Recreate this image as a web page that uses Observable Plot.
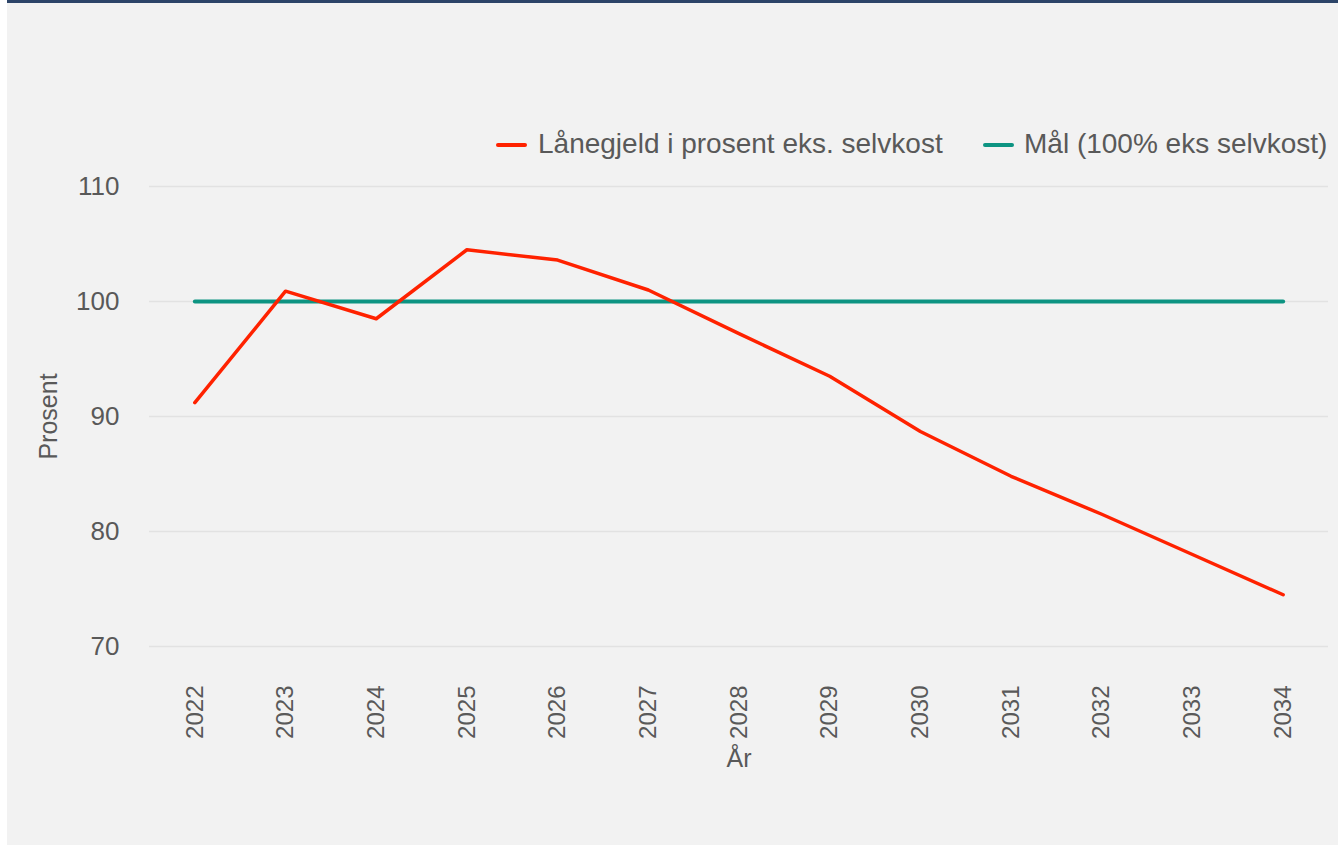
<!DOCTYPE html>
<html>
<head>
<meta charset="utf-8">
<script src="https://cdn.jsdelivr.net/npm/d3@7"></script>
<script src="https://cdn.jsdelivr.net/npm/@observablehq/plot@0.6"></script>
<style>
  html, body { margin: 0; padding: 0; background: #ffffff; }
  #panel {
    position: absolute; left: 7px; top: 0px; width: 1331px; height: 842px;
    background: #f2f2f2; border-top: 3px solid #2c4468;
    font-family: "Liberation Sans", Arial, sans-serif; color: #595959;
  }
  #chart { position: absolute; left: 0; top: 0; }
  .sw { position: absolute; height: 4px; width: 31px; border-radius: 2px; }
  .lt { position: absolute; font-size: 28px; line-height: 28px; white-space: nowrap; color: #595959; }
</style>
</head>
<body>
<div id="panel">
  <div id="chart"></div>
  <div id="legend"></div>
</div>
<script>
const years = [2022, 2023, 2024, 2025, 2026, 2027, 2028, 2029, 2030, 2031, 2032, 2033, 2034];
const debtPct = [91.2, 100.9, 98.5, 104.5, 103.6, 101.0, 97.2, 93.5, 88.7, 84.8, 81.5, 78.0, 74.5];
const targetPct = [100, 100, 100, 100, 100, 100, 100, 100, 100, 100, 100, 100, 100];
const yTicks = [70, 80, 90, 100, 110];
const seriesNames = ["Lånegjeld i prosent eks. selvkost", "Mål (100% eks selvkost)"];
const seriesColors = ["#ff2200", "#0d9482"];
const xTitle = "År";
const yTitle = "Prosent";

const debt = years.map((y, i) => ({year: y, value: debtPct[i]}));
const target = years.map((y, i) => ({year: y, value: targetPct[i]}));

const chart = Plot.plot({
  width: 1331,
  height: 842,
  marginLeft: 142,
  marginRight: 10,
  marginTop: 183,
  marginBottom: 199,
  style: {background: "transparent", fontFamily: "'Liberation Sans', Arial, sans-serif", color: "#595959"},
  x: {type: "point", domain: years, padding: 0.5, round: false},
  y: {domain: [70, 110]},
  marks: [
    Plot.ruleY(yTicks, {stroke: "#e2e2e2", strokeWidth: 1.5}),
    Plot.axisY({ticks: yTicks, tickSize: 0, tickPadding: 30, label: null, fontSize: 26, fill: "#595959"}),
    Plot.axisX({tickRotate: -90, tickSize: 0, tickPadding: 39, label: null, fontSize: 24, fill: "#595959", tickFormat: d => String(d)}),
    Plot.text([yTitle], {frameAnchor: "left", textAnchor: "middle", dx: -101, rotate: -90, fontSize: 25, fill: "#595959"}),
    Plot.text([xTitle], {frameAnchor: "bottom", dy: 120, fontSize: 25, fill: "#595959"}),
    Plot.line(target, {x: "year", y: "value", stroke: seriesColors[1], strokeWidth: 4, strokeLinecap: "round"}),
    Plot.line(debt, {x: "year", y: "value", stroke: seriesColors[0], strokeWidth: 3.5, strokeLinecap: "round", strokeLinejoin: "round"})
  ]
});
document.getElementById("chart").appendChild(chart);

const legend = document.getElementById("legend");
const swLeft = [489, 976];
const txLeft = [531, 1017];
seriesNames.forEach((name, i) => {
  const sw = document.createElement("div");
  sw.className = "sw";
  sw.style.left = swLeft[i] + "px";
  sw.style.top = "140px";
  sw.style.background = seriesColors[i];
  legend.appendChild(sw);
  const t = document.createElement("div");
  t.className = "lt";
  t.style.left = txLeft[i] + "px";
  t.style.top = "127px";
  t.textContent = name;
  legend.appendChild(t);
});
</script>
</body>
</html>
